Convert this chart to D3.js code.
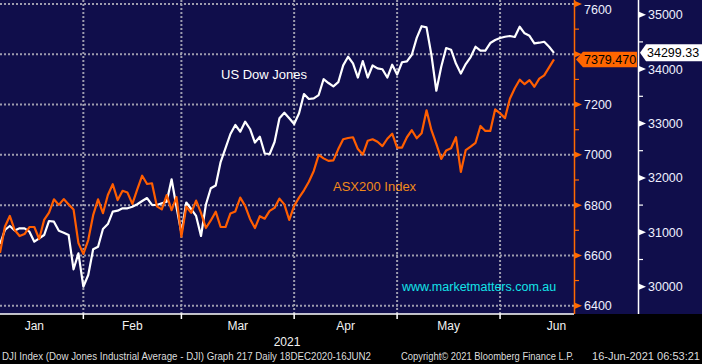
<!DOCTYPE html>
<html>
<head>
<meta charset="utf-8">
<script src="https://d3js.org/d3.v7.min.js"></script>
<style>
  body { margin: 0; background: #000; }
  svg { display: block; }
  text { font-family: "Liberation Sans", Arial, sans-serif; }
</style>
</head>
<body>
<svg width="702" height="364"></svg>
<script>
// daily closes, one value per trading day (mid Dec 2020 -> 15 Jun 2021)
const asx200 = [6610,6714,6757,6701,6677,6685,6713,6713,6665,6741,
  6770,6823,6801,6824,6803,6783,6649,6606,6661,6760,
  6823,6768,6840,6883,6820,6857,6850,6805,6863,6917,
  6884,6887,6795,6783,6840,6780,6832,6675,6794,6769,
  6818,6769,6709,6739,6774,6713,6713,6767,6775,6830,
  6797,6745,6709,6756,6746,6777,6789,6826,6803,6741,
  6797,6830,6859,6893,6936,7000,6986,6976,6978,7023,
  7062,7067,7070,7023,7001,7056,7062,7052,7035,7064,
  7084,7029,7029,7070,7098,7066,7086,7177,7098,7044,
  6984,7017,7026,7070,6932,7019,7033,7048,7115,7095,
  7095,7181,7165,7146,7223,7265,7299,7281,7297,7271,
  7303,7316,7348,7379.47]

const dowJones = [30785,31042,31116,31033,31073,31073,31011,30827,30890,30950,
  31208,31195,31029,30993,30950,30320,30614,30000,30215,30687,
  30735,31061,31152,31379,31397,31441,31441,31470,31515,31575,
  31630,31502,31502,31533,31562,31974,31465,30987,31548,31428,
  31300,30932,31511,31809,31860,32292,32549,32807,32972,32849,
  33033,32899,32650,32757,32448,32439,32660,33095,33198,33095,
  32990,33187,33542,33450,33463,33523,33814,33744,33683,33759,
  34069,34227,34106,33845,34148,33845,34066,34014,33998,33845,
  34080,33900,34126,34143,34264,34575,34788,34768,34259,33602,
  34044,34387,34356,34101,33917,34093,34222,34411,34338,34338,
  34479,34534,34571,34595,34608,34590,34779,34658,34612,34474,
  34485,34503,34411,34299.33]

// month names and the trading-day index where each month begins (last = July)
const months = ['Jan', 'Feb', 'Mar', 'Apr', 'May', 'Jun']
const monthStarts = [-3, 17, 37, 60, 81, 102, 125]

const asxTicks = [6400, 6600, 6800, 7000, 7200, 7400, 7600]
const asxMinor = [6500, 6700, 6900, 7100, 7300, 7500]
const dowTicks = [30000, 31000, 32000, 33000, 34000, 35000]
const dowMinor = [30500, 31500, 32500, 33500, 34500]

const svg = d3.select('svg')
const plotRight = 574
const plotBottom = 314

let x = d3.scaleLinear().domain([0, asx200.length - 1]).range([0, 554])
let yAsx = d3.scaleLinear().domain([6400, 7600]).range([305.7, 4])
let yDow = d3.scaleLinear().domain([30000, 35000]).range([286.7, 14.7])

let lastAsx = asx200[asx200.length - 1]
let lastDow = dowJones[dowJones.length - 1]

// backgrounds
svg.append('rect').attr('width', 702).attr('height', 364).attr('fill', '#000')
svg.append('rect').attr('width', 702).attr('height', plotBottom).attr('fill', '#100e4b')

// dotted grid
svg.selectAll('.hgrid').data(asxTicks).enter().append('line')
  .attr('x1', 0).attr('x2', plotRight)
  .attr('y1', d => yAsx(d)).attr('y2', d => yAsx(d))
  .attr('stroke', '#9d9cae').attr('stroke-width', 2).attr('stroke-dasharray', '2,2')

svg.selectAll('.vgrid').data(monthStarts.slice(1, 6)).enter().append('line')
  .attr('x1', d => x(d)).attr('x2', d => x(d))
  .attr('y1', 0).attr('y2', plotBottom)
  .attr('stroke', '#9d9cae').attr('stroke-width', 2).attr('stroke-dasharray', '2,2')

// series
let line = d3.line().x((d, i) => x(i))
svg.append('path').datum(dowJones)
  .attr('d', line.y(d => yDow(d)))
  .attr('fill', 'none').attr('stroke', '#ffffff').attr('stroke-width', 2.2)
  .attr('stroke-linejoin', 'round')
svg.append('path').datum(asx200)
  .attr('d', line.y(d => yAsx(d)))
  .attr('fill', 'none').attr('stroke', '#ff5e00').attr('stroke-width', 2.2)
  .attr('stroke-linejoin', 'round')

// bottom axis
svg.append('line').attr('x1', 0).attr('x2', plotRight)
  .attr('y1', plotBottom).attr('y2', plotBottom)
  .attr('stroke', '#fff').attr('stroke-width', 1.5)
svg.selectAll('.xtick').data(monthStarts.slice(1, 6)).enter().append('line')
  .attr('x1', d => x(d)).attr('x2', d => x(d))
  .attr('y1', plotBottom).attr('y2', plotBottom + 5)
  .attr('stroke', '#fff').attr('stroke-width', 1.5)
svg.selectAll('.month').data(months).enter().append('text')
  .attr('x', (d, i) => x((monthStarts[i] + monthStarts[i + 1]) / 2))
  .attr('y', 330)
  .attr('text-anchor', 'middle')
  .attr('fill', '#f2f2f2').style('font-size', '12px')
  .text(d => d)
svg.append('text').attr('x', 287).attr('y', 346).attr('text-anchor', 'middle')
  .attr('fill', '#f2f2f2').style('font-size', '12px').text('2021')

// orange (ASX) axis
svg.append('line').attr('x1', 574.5).attr('x2', 574.5).attr('y1', 0).attr('y2', plotBottom)
  .attr('stroke', '#ff6a00').attr('stroke-width', 1.5)
svg.selectAll('.asxArrow').data(asxTicks).enter().append('path')
  .attr('d', d => `M575,${yAsx(d) - 3}L582,${yAsx(d)}L575,${yAsx(d) + 3}Z`)
  .attr('fill', '#ff6a00')
svg.selectAll('.asxMinor').data(asxMinor).enter().append('line')
  .attr('x1', 575).attr('x2', 579)
  .attr('y1', d => yAsx(d)).attr('y2', d => yAsx(d))
  .attr('stroke', '#ff6a00').attr('stroke-width', 1.2)
// labels hidden by the last-value tag are left out, top label kept inside the frame
svg.selectAll('.asxLabel')
  .data(asxTicks.filter(d => Math.abs(yAsx(d) - yAsx(lastAsx)) > 12))
  .enter().append('text')
  .attr('x', 584).attr('y', d => Math.max(yAsx(d) + 4.5, 13.5))
  .attr('fill', '#eef0ff').style('font-size', '12.5px')
  .text(d => d)

// white (Dow) axis
svg.append('line').attr('x1', 638.5).attr('x2', 638.5).attr('y1', 0).attr('y2', plotBottom)
  .attr('stroke', '#fff').attr('stroke-width', 1.5)
svg.selectAll('.dowArrow').data(dowTicks).enter().append('path')
  .attr('d', d => `M639,${yDow(d) - 3}L646,${yDow(d)}L639,${yDow(d) + 3}Z`)
  .attr('fill', '#fff')
svg.selectAll('.dowMinor').data(dowMinor).enter().append('line')
  .attr('x1', 639).attr('x2', 643)
  .attr('y1', d => yDow(d)).attr('y2', d => yDow(d))
  .attr('stroke', '#fff').attr('stroke-width', 1.2)
svg.selectAll('.dowLabel').data(dowTicks).enter().append('text')
  .attr('x', 648).attr('y', d => yDow(d) + 4.5)
  .attr('fill', '#eef0ff').style('font-size', '12.5px')
  .text(d => d)

// last value tags
let ya = yAsx(lastAsx)
svg.append('path')
  .attr('d', `M576,${ya}L583,${ya - 7.8}L637,${ya - 7.8}L637,${ya + 7.8}L583,${ya + 7.8}Z`)
  .attr('fill', '#ff6600')
svg.append('text').attr('x', 584).attr('y', ya + 4.5)
  .attr('fill', '#000').style('font-size', '12.5px').text(lastAsx.toFixed(3))

let yd = yDow(lastDow)
svg.append('path')
  .attr('d', `M640,${yd}L646,${yd - 8.5}L702,${yd - 8.5}L702,${yd + 8.5}L646,${yd + 8.5}Z`)
  .attr('fill', '#ffffff')
svg.append('text').attr('x', 647).attr('y', yd + 4.5)
  .attr('fill', '#000').style('font-size', '12.5px').text(lastDow.toFixed(2))

// annotations
svg.append('text').attr('x', 221).attr('y', 79).attr('fill', '#fff')
  .style('font-size', '13px').text('US Dow Jones')
svg.append('text').attr('x', 333).attr('y', 191).attr('fill', '#f28a1a')
  .style('font-size', '13px').text('ASX200 Index')
svg.append('text').attr('x', 402).attr('y', 291).attr('fill', '#13e3e8')
  .style('font-size', '12.5px').text('www.marketmatters.com.au')

// footer
let footer = svg.append('g').attr('fill', '#dcdcdc').style('font-size', '10.5px')
footer.append('text').attr('x', 2).attr('y', 360)
  .attr('textLength', 369).attr('lengthAdjust', 'spacingAndGlyphs')
  .text('DJI Index (Dow Jones Industrial Average - DJI) Graph 217  Daily 18DEC2020-16JUN2')
footer.append('text').attr('x', 401).attr('y', 360)
  .attr('textLength', 173).attr('lengthAdjust', 'spacingAndGlyphs')
  .text('Copyright\u00a9 2021 Bloomberg Finance L.P.')
footer.append('text').attr('x', 592).attr('y', 360)
  .attr('textLength', 108).attr('lengthAdjust', 'spacingAndGlyphs')
  .text('16-Jun-2021 06:53:21')
</script>
</body>
</html>
